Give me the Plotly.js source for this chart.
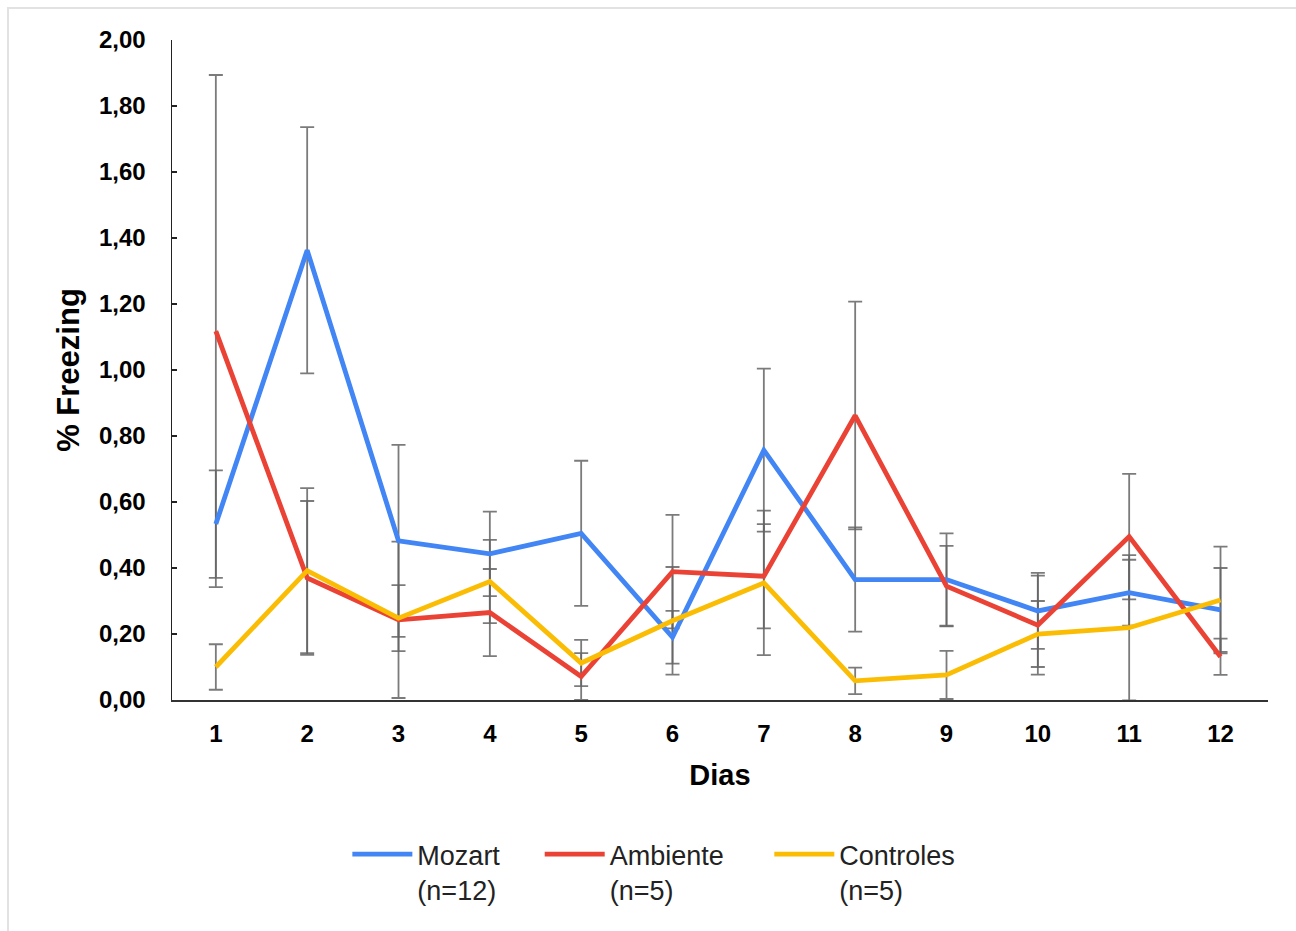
<!DOCTYPE html>
<html>
<head>
<meta charset="utf-8">
<script src="https://cdn.plot.ly/plotly-3.0.1.min.js"></script>
<style>
html,body{margin:0;padding:0;background:#fff;}
#wrap{position:relative;width:1296px;height:931px;}
#chart{width:1296px;height:931px;}
#frame{position:absolute;left:7px;top:7px;width:1289px;height:924px;border-top:2px solid #e2e2e2;border-left:2px solid #e2e2e2;pointer-events:none;box-sizing:border-box;}
</style>
</head>
<body>
<div id="wrap"><div id="chart"></div><div id="frame"></div></div>
<script>
const dias = [1,2,3,4,5,6,7,8,9,10,11,12];
const diasLabels = ['1','2','3','4','5','6','7','8','9','10','11','12'];

const mozart    = [0.533,1.363,0.482,0.443,0.505,0.190,0.757,0.365,0.365,0.270,0.325,0.273];
const mozartErr = [0.163,0.373,0.291,0.128,0.220,0.080,0.247,0.158,0.140,0.115,0.100,0.127];

const ambiente    = [1.118,0.370,0.243,0.265,0.071,0.389,0.375,0.862,0.345,0.227,0.495,0.131];
const ambienteErr = [0.776,0.233,0.237,0.132,0.071,0.172,0.158,0.345,0.122,0.150,0.190,0.055];

const controles    = [0.100,0.392,0.248,0.359,0.112,0.240,0.355,0.058,0.076,0.200,0.219,0.303];
const controlesErr = [0.069,0.250,0.100,0.126,0.070,0.163,0.219,0.040,0.073,0.100,0.220,0.162];

const seriesNames = ['Mozart<br>(n=12)','Ambiente<br>(n=5)','Controles<br>(n=5)'];
const seriesColors = ['#4285F4','#EA4335','#FBBC04'];
const legendIds = ['legend','legend2','legend3'];
const legendX = [0.16, 0.3355, 0.545];

const FONT = '"Liberation Sans", Arial, sans-serif';

function errTrace(y, e){
  return {
    x: dias, y: y, type: 'scatter', mode: 'markers',
    marker: {size: 2, opacity: 0},
    error_y: {type: 'data', array: e, visible: true, color: 'rgba(100,100,100,0.85)', thickness: 1.8, width: 7},
    showlegend: false, hoverinfo: 'skip'
  };
}
function lineTrace(y, i){
  return {
    x: dias, y: y, type: 'scatter', mode: 'lines', name: seriesNames[i],
    legend: legendIds[i],
    line: {color: seriesColors[i], width: 4.8}
  };
}

const data = [
  errTrace(mozart, mozartErr),
  errTrace(ambiente, ambienteErr),
  errTrace(controles, controlesErr),
  lineTrace(mozart, 0),
  lineTrace(ambiente, 1),
  lineTrace(controles, 2)
];

function legendCfg(i){
  return {
    orientation: 'h', x: legendX[i], xanchor: 'left', y: -0.197, yanchor: 'top',
    valign: 'top', itemwidth: 60,
    font: {family: FONT, size: 27, color: '#222'},
    bgcolor: 'rgba(0,0,0,0)'
  };
}

const layout = {
  width: 1296, height: 931,
  margin: {l: 172, r: 28, t: 40, b: 231},
  paper_bgcolor: '#ffffff', plot_bgcolor: '#ffffff',
  separators: ',.',
  font: {family: FONT, color: '#000'},
  showlegend: true,
  xaxis: {
    range: [0.52, 12.52], tickvals: dias, ticktext: diasLabels,
    showgrid: false, zeroline: false, showline: true, linecolor: '#333', linewidth: 2,
    ticks: '', tickfont: {family: FONT, size: 24, weight: 'bold', color: '#000'},
    ticklabelstandoff: 11,
    title: {text: 'Dias', font: {family: FONT, size: 29, weight: 'bold', color: '#000'}, standoff: 19},
    fixedrange: true
  },
  yaxis: {
    range: [0, 2], dtick: 0.2, tick0: 0, tickformat: '.2f',
    showgrid: false, zeroline: false, showline: true, linecolor: '#222', linewidth: 1.5,
    ticks: 'inside', ticklen: 5, tickwidth: 1.5, tickcolor: '#222',
    tickfont: {family: FONT, size: 24, weight: 'bold', color: '#000'},
    ticklabelstandoff: 20,
    title: {text: '% Freezing', font: {family: FONT, size: 31, weight: 'bold', color: '#000'}, standoff: 10},
    fixedrange: true
  },
  legend: legendCfg(0),
  legend2: legendCfg(1),
  legend3: legendCfg(2)
};

Plotly.newPlot('chart', data, layout, {displayModeBar: false, staticPlot: true});
</script>
</body>
</html>
